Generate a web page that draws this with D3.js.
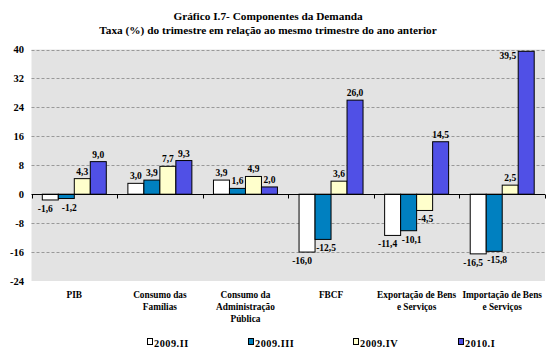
<!DOCTYPE html>
<html>
<head>
<meta charset="utf-8">
<script src="https://cdn.jsdelivr.net/npm/d3@7"></script>
<style>
  body { margin: 0; background: #fff; }
  svg text { font-family: "Liberation Serif", "Times New Roman", serif; font-weight: bold; fill: #000; }
</style>
</head>
<body>
<div id="chart"></div>
<script>
// dados do gráfico
const categorias = [
  ["PIB"],
  ["Consumo das", "Famílias"],
  ["Consumo da", "Administração", "Pública"],
  ["FBCF"],
  ["Exportação de Bens", "e Serviços"],
  ["Importação de Bens", "e Serviços"]
];
const series = ["2009.II", "2009.III", "2009.IV", "2010.I"];
const v2009II  = [-1.6, 3.0, 3.9, -16.0, -11.4, -16.5];
const v2009III = [-1.2, 3.9, 1.6, -12.5, -10.1, -15.8];
const v2009IV  = [4.3, 7.7, 4.9, 3.6, -4.5, 2.5];
const v2010I   = [9.0, 9.3, 2.0, 26.0, 14.5, 39.5];
const yTicks = [40, 32, 24, 16, 8, 0, -8, -16, -24];
const cores = ["#ffffff", "#0080c0", "#ffffcc", "#5050e6"];

const valores = [v2009II, v2009III, v2009IV, v2010I];
const W = 552, H = 354;
const mLeft = 31.5, mRight = 545, mTop = 49.5, mBottom = 281;

const svg = d3.select("#chart").append("svg")
    .attr("width", W).attr("height", H);

// título
svg.append("text").attr("x", 268).attr("y", 20).attr("text-anchor", "middle")
   .style("font-size", "11.3px").text("Gráfico I.7- Componentes da Demanda");
svg.append("text").attr("x", 268).attr("y", 34).attr("text-anchor", "middle")
   .style("font-size", "11.3px").text("Taxa (%) do trimestre em relação ao mesmo trimestre do ano anterior");

const catIdx = categorias.map((d, i) => i);
const x0 = d3.scaleBand().domain(catIdx).range([mLeft, mRight]);
const x1 = d3.scaleBand().domain(series).range([0, x0.bandwidth()]).paddingOuter(0.675);
const y = d3.scaleLinear().domain([-24, 40]).range([mBottom, mTop]);

// fundo da área de plotagem
svg.append("rect").attr("x", mLeft).attr("y", mTop)
   .attr("width", mRight - mLeft).attr("height", mBottom - mTop)
   .attr("fill", "#e3e3e3");

// grade tracejada
svg.append("g").selectAll("line").data(yTicks.filter(d => d !== 0 && d !== -24)).join("line")
   .attr("x1", mLeft).attr("x2", mRight)
   .attr("y1", d => Math.round(y(d)) + 0.5).attr("y2", d => Math.round(y(d)) + 0.5)
   .attr("stroke", "#999").attr("stroke-dasharray", "3,2");

// rótulos do eixo y
svg.append("g").selectAll("text").data(yTicks).join("text")
   .attr("x", 24).attr("y", d => y(d) + 3.5).attr("text-anchor", "end")
   .style("font-size", "10.5px").text(d => d);

// barras
const linhas = [];
series.forEach((s, si) => {
  valores[si].forEach((v, ci) => linhas.push({ s, si, ci, v }));
});

svg.append("g").selectAll("rect").data(linhas).join("rect")
   .attr("x", d => x0(d.ci) + x1(d.s))
   .attr("y", d => y(Math.max(0, d.v)))
   .attr("width", x1.bandwidth())
   .attr("height", d => Math.abs(y(d.v) - y(0)))
   .attr("fill", d => cores[d.si])
   .attr("stroke", "#000").attr("stroke-width", 1);

// eixo x em zero
const eixo = svg.append("g").attr("transform", `translate(0,${Math.round(y(0)) + 0.5})`);
eixo.append("line").attr("x1", mLeft).attr("x2", mRight).attr("stroke", "#000");
eixo.selectAll(".tk").data(d3.range(categorias.length + 1)).join("line")
   .attr("x1", d => Math.round(mLeft + d * x0.step()) + 0.5)
   .attr("x2", d => Math.round(mLeft + d * x0.step()) + 0.5)
   .attr("y1", 0).attr("y2", 4).attr("stroke", "#000");

// rótulos de dados
const fmt = v => d3.format(".1f")(v).replace(".", ",").replace("−", "-");
const noTopo = d => y(d.v) < mTop + 12;
// rótulos negativos vizinhos afastados um do outro
const desloc = d => d.v >= 0 ? 0 : (d.si === 0 ? -5 : d.si === 1 ? 3 : 1);
svg.append("g").selectAll("text").data(linhas).join("text")
   .attr("x", d => {
     const cx = x0(d.ci) + x1(d.s) + x1.bandwidth() / 2;
     return noTopo(d) ? cx - x1.bandwidth() / 2 - 2 : cx + desloc(d);
   })
   .attr("y", d => {
     if (noTopo(d)) return y(d.v) + 8;
     return d.v >= 0 ? y(d.v) - 4 : y(d.v) + 12;
   })
   .attr("text-anchor", d => noTopo(d) ? "end" : "middle")
   .style("font-size", "9.5px")
   .text(d => fmt(d.v));

// rótulos das categorias
svg.append("g").selectAll("text").data(categorias).join("text")
   .attr("x", (d, i) => x0(i) + x0.bandwidth() / 2)
   .attr("y", 298)
   .attr("text-anchor", "middle")
   .style("font-size", "9.3px")
   .selectAll("tspan").data(d => d).join("tspan")
   .attr("x", function () { return d3.select(this.parentNode).attr("x"); })
   .attr("dy", (d, i) => i === 0 ? 0 : 12)
   .text(d => d);

// legenda
const legX = [147, 248, 353, 458];
const leg = svg.append("g").selectAll("g").data(series).join("g")
   .attr("transform", (d, i) => `translate(${legX[i]},343)`);
leg.append("rect").attr("x", 0.5).attr("y", -4.5).attr("width", 5).attr("height", 6)
   .attr("fill", (d, i) => cores[i]).attr("stroke", "#000");
leg.append("text").attr("x", 7).attr("y", 3.5).style("font-size", "10.3px")
   .style("letter-spacing", "0.5px").text(d => d);
</script>
</body>
</html>
